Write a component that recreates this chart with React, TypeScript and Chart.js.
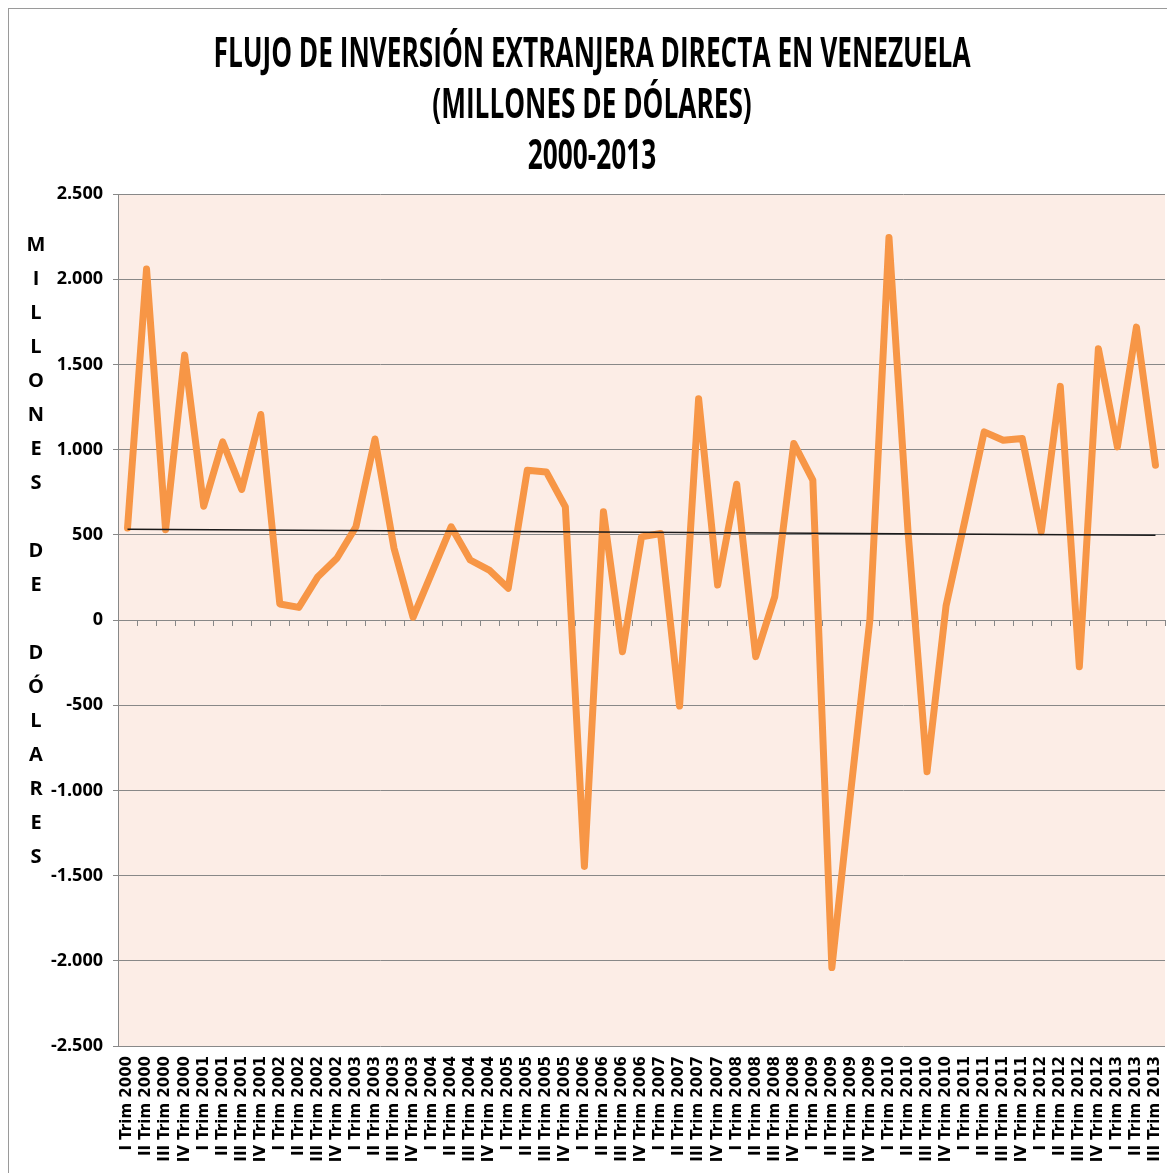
import React, { useEffect, useRef } from 'react';
import { Chart, registerables } from 'chart.js';

Chart.register(...registerables);

// ---- Data ----
const years = [2000, 2001, 2002, 2003, 2004, 2005, 2006, 2007, 2008, 2009, 2010, 2011, 2012, 2013];
const quarterNames = ['I', 'II', 'III', 'IV'];

// Flujo de IED trimestral (millones de US$), I Trim 2000 – III Trim 2013
const fdiValues = [
  540, 2060, 530, 1555,
  668, 1045, 766, 1206,
  94, 74, 254, 362,
  547, 1062, 420, 16,
  281, 547, 352, 293,
  186, 879, 869, 664,
  -1446, 635, -186, 488,
  508, -505, 1299, 205,
  797, -215, 137, 1036,
  821, -2040, -1000, 5,
  2245, 520, -890, 84,
  590, 1104, 1055, 1065,
  518, 1371, -274, 1592,
  1016, 1719, 908,
];

// Linear trend line: value at first and last quarter
const trendEnds = [533, 497];

const yMin = -2500;
const yMax = 2500;
const yStep = 500;

const titleLines = [
  'FLUJO DE INVERSIÓN EXTRANJERA DIRECTA EN VENEZUELA',
  '(MILLONES DE DÓLARES)',
  '2000-2013',
];
const yAxisTitle = 'MILLONES DE DÓLARES';

const labels = fdiValues.map((_, i) => `${quarterNames[i % 4]} Trim ${years[Math.floor(i / 4)]}`);

const NARROW = '"Liberation Sans Narrow", "Open Sans", sans-serif';

function fmtThousands(v: number): string {
  const s = String(Math.abs(v)).replace(/\B(?=(\d{3})+(?!\d))/g, '.');
  return v < 0 ? '-' + s : s;
}

const decorPlugin = {
  id: 'decor',
  beforeDraw(chart: any) {
    const { ctx, chartArea } = chart;
    ctx.save();
    ctx.fillStyle = '#FCEDE6';
    ctx.fillRect(chartArea.left, chartArea.top, chartArea.right - chartArea.left, chartArea.bottom - chartArea.top);
    ctx.restore();
  },
  beforeDatasetsDraw(chart: any) {
    const { ctx } = chart;
    const xs = chart.scales.x;
    const ys = chart.scales.y;
    const y0 = Math.round(ys.getPixelForValue(0));
    const step = xs.getPixelForValue(1) - xs.getPixelForValue(0);
    const start = xs.getPixelForValue(0) - step / 2;
    ctx.save();
    ctx.strokeStyle = '#888888';
    ctx.lineWidth = 1;
    ctx.beginPath();
    for (let k = 0; k <= labels.length; k++) {
      const x = Math.round(start + k * step) + 0.5;
      ctx.moveTo(x, y0);
      ctx.lineTo(x, y0 + 6);
    }
    ctx.stroke();
    ctx.restore();
  },
  afterDraw(chart: any) {
    const { ctx, chartArea } = chart;
    ctx.save();
    ctx.fillStyle = '#000';
    // Title
    ctx.font = `bold 42px ${NARROW}`;
    ctx.textAlign = 'center';
    ctx.textBaseline = 'alphabetic';
    const w0 = ctx.measureText(titleLines[0]).width;
    const sx = 757 / w0;
    const cx = chart.width / 2;
    const baselines = [58, 109, 160];
    titleLines.forEach((t, i) => {
      ctx.save();
      ctx.translate(cx, baselines[i]);
      ctx.scale(sx, 1);
      ctx.fillText(t, 0, 0);
      ctx.restore();
    });
    // Vertical stacked axis title
    ctx.font = `bold 20px ${NARROW}`;
    ctx.textBaseline = 'middle';
    const letters = yAxisTitle.split('');
    const top = chartArea.top + 51;
    letters.forEach((ch, i) => {
      if (ch !== ' ') ctx.fillText(ch, 27, top + i * 34);
    });
    ctx.restore();
  },
};

export default function App() {
  const ref = useRef<HTMLCanvasElement | null>(null);

  useEffect(() => {
    if (!ref.current) return;
    const last = fdiValues.length - 1;
    const trendData = fdiValues.map((_, i) => (i === 0 ? trendEnds[0] : i === last ? trendEnds[1] : null));
    const chart = new Chart(ref.current, {
      type: 'line',
      data: {
        labels,
        datasets: [
          {
            label: 'Lineal (IED)',
            data: trendData,
            borderColor: '#1a1a1a',
            borderWidth: 1.5,
            pointRadius: 0,
            spanGaps: true,
            fill: false,
          },
          {
            label: 'IED',
            data: fdiValues,
            borderColor: '#F79646',
            borderWidth: 7,
            pointRadius: 0,
            tension: 0,
            borderJoinStyle: 'round',
            borderCapStyle: 'round',
            fill: false,
          },
        ],
      },
      options: {
        responsive: false,
        animation: false,
        events: [],
        layout: { padding: { top: 185, right: 10, left: 0, bottom: 0 } },
        plugins: {
          legend: { display: false },
          tooltip: { enabled: false },
          title: { display: false },
        },
        scales: {
          x: {
            type: 'category',
            offset: true,
            grid: { display: false, drawTicks: false },
            border: { display: false },
            ticks: {
              autoSkip: false,
              minRotation: 90,
              maxRotation: 90,
              padding: 10,
              color: '#000',
              font: { family: '"DejaVu Sans"', weight: 'bold', size: 15 },
            },
            afterFit: (s: any) => {
              s.height = 127;
              s.paddingLeft = 0;
              s.paddingRight = 0;
            },
          },
          y: {
            min: yMin,
            max: yMax,
            ticks: {
              stepSize: yStep,
              padding: 10,
              color: '#000',
              font: { family: NARROW, weight: 'bold', size: 18 },
              callback: (v: any) => fmtThousands(Number(v)),
            },
            grid: { color: '#888888', lineWidth: 1, drawTicks: true, tickLength: 5 },
            border: { display: true, color: '#888888', width: 1 },
            afterFit: (s: any) => {
              s.width = 109;
              s.paddingTop = 0;
              s.paddingBottom = 0;
            },
          },
        },
      } as any,
      plugins: [decorPlugin],
    });
    return () => chart.destroy();
  }, []);

  return (
    <div
      style={{
        borderLeft: '1px solid #9a9a9a',
        borderTop: '1px solid #9a9a9a',
        width: 1166,
        height: 1164,
        background: '#fff',
      }}
    >
      <canvas ref={ref} width={1166} height={1164} style={{ display: 'block' }} />
    </div>
  );
}
